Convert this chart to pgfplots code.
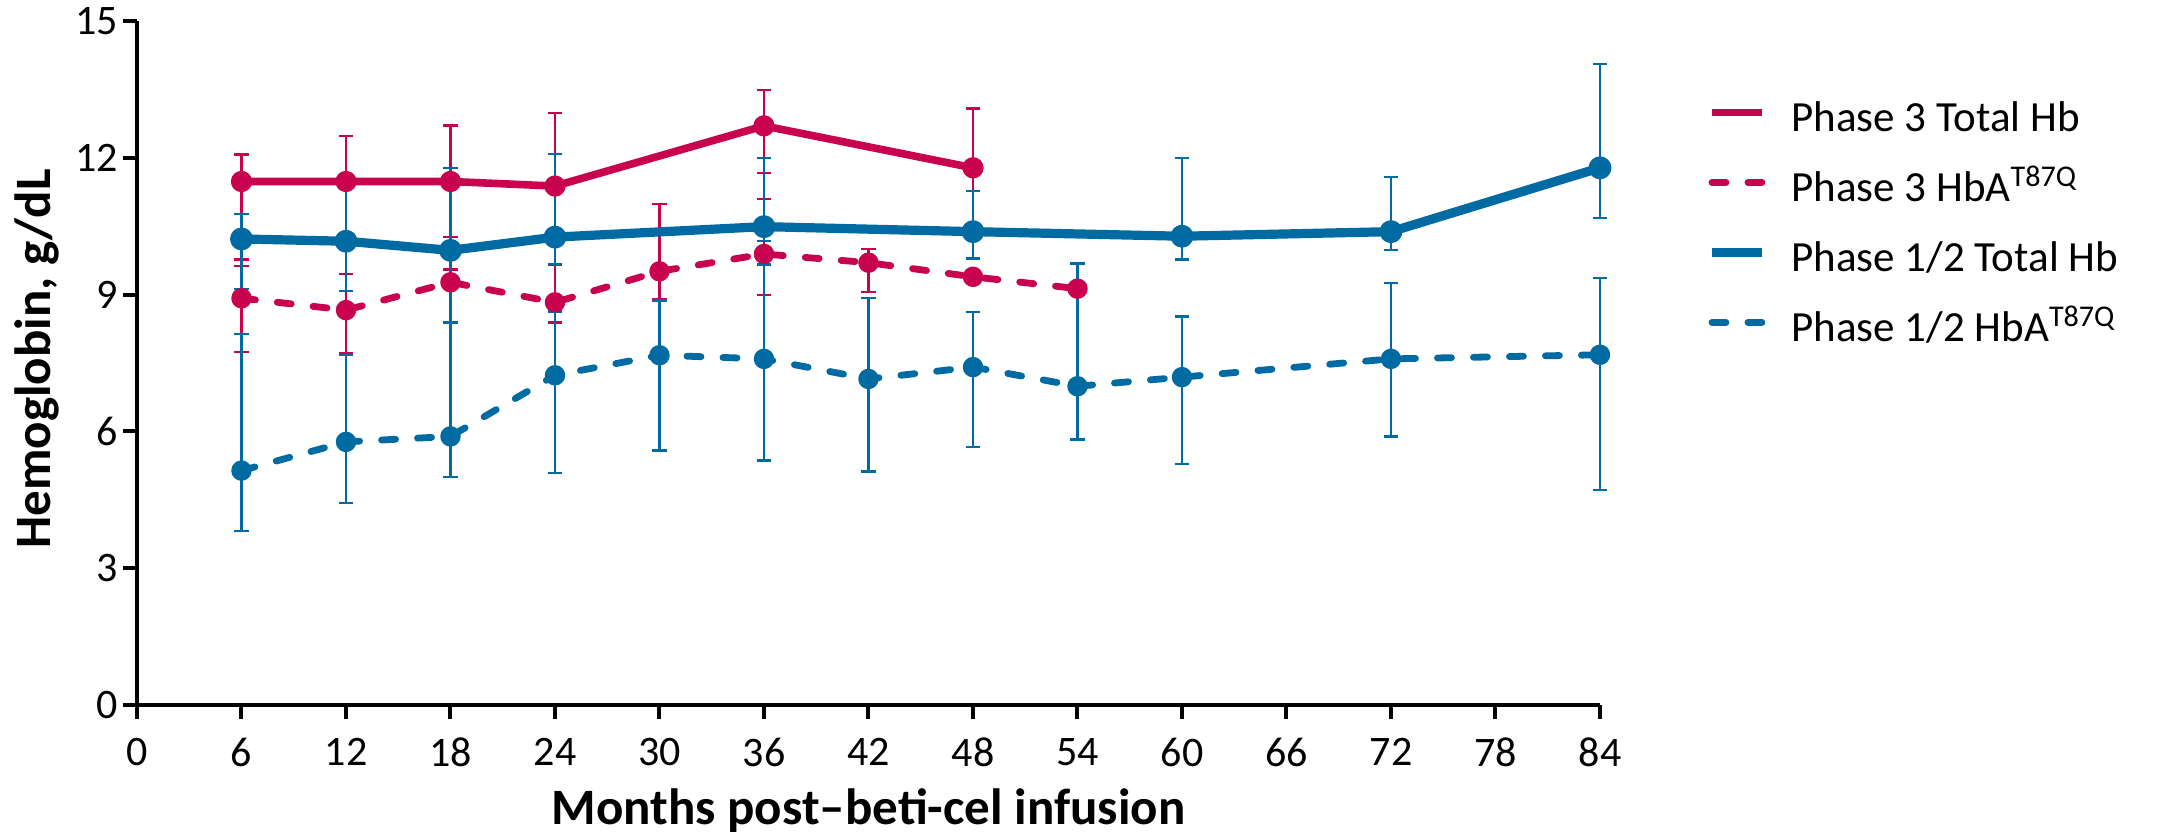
\documentclass[border=0pt]{standalone}
\usepackage{fontspec}
\setmainfont{Carlito}
\usepackage{pgfplots}
\pgfplotsset{compat=1.18}
\usepackage{pgfplotstable}

\definecolor{pthree}{HTML}{C8024F}
\definecolor{ponetwo}{HTML}{006AA3}

% x = month, y = mean, hi/lo = ends of the error bar (g/dL)
\pgfplotstableread{
x  y     hi    lo
6  11.48 12.07 9.77
12 11.48 12.48 10.02
18 11.48 12.71 10.27
24 11.38 12.98 10.20
36 12.70 13.48 11.67
48 11.78 13.08 10.40
}\pthreetotal

\pgfplotstableread{
x  y     hi    lo
6  8.92  9.62  7.74
12 8.66  9.45  7.72
18 9.27  9.55  8.40
24 8.83  9.65  8.39
30 9.51  10.98 8.90
36 9.89  11.09 8.99
42 9.70  10.00 9.05
48 9.39  9.39  9.39
54 9.13  9.13  9.13
}\pthreehba

\pgfplotstableread{
x  y     hi    lo
6  10.22 10.76 9.12
12 10.17 11.48 9.07
18 9.97  11.78 8.38
24 10.26 12.08 9.67
36 10.49 11.99 10.17
48 10.38 11.28 9.79
60 10.28 11.99 9.77
72 10.38 11.58 9.98
84 11.78 14.06 10.68
}\ponetwototal

\pgfplotstableread{
x  y     hi    lo
6  5.14  8.13  3.81
12 5.77  7.68  4.43
18 5.89  8.40  5.00
24 7.23  8.63  5.09
30 7.67  8.87  5.58
36 7.59  9.66  5.36
42 7.15  8.93  5.12
48 7.41  8.62  5.66
54 6.99  9.68  5.82
60 7.19  8.52  5.28
72 7.59  9.26  5.89
84 7.68  9.37  4.72
}\ponetwohba

\pgfplotsset{
  errbars/.style={
    #1, only marks, mark=*, mark size=0.2pt, forget plot,
    error bars/.cd, y dir=both, y explicit, error mark=-,
    error bar style={draw=#1, line width=1.1pt, solid},
    error mark options={draw=#1, line width=1.1pt, mark size=3.6pt, solid, rotate=90},
    /pgfplots/.cd,
  },
  dashedline/.style={line width=3.4pt, dash pattern=on 7pt off 11pt, line cap=round},
}

\begin{document}
\begin{tikzpicture}
\path[use as bounding box] (-68.5pt,-66.5pt) rectangle (1012pt,352.5pt);
\begin{axis}[
  at={(0,0)}, anchor=south west,
  scale only axis, width=731.5pt, height=342pt,
  xmin=0, xmax=84, ymin=0, ymax=15,
  xtick={0,6,...,84}, ytick={0,3,...,15},
  axis x line*=bottom, axis y line*=left,
  axis line style={line width=2.2pt, -},
  tick style={line width=2pt, black},
  major tick length=7pt, tick align=outside,
  clip=false,
  /pgf/number format/assume math mode=true,
  ticklabel style={font=\fontsize{21}{21}\selectfont},
  xticklabel style={yshift=-6pt},
  yticklabel style={xshift=1pt},
  xlabel={Months post–beti-cel infusion},
  ylabel={Hemoglobin, g/dL},
  label style={font=\fontsize{25.5}{25.5}\selectfont\bfseries},
  xlabel style={at={(axis description cs:0.5,-0.155)}, anchor=center},
  ylabel style={at={(axis description cs:-0.0684,0.506)}, anchor=center, rotate=0},
  legend cell align=left,
  legend style={
    at={(axis description cs:1.069,0.707)}, anchor=west,
    draw=none, fill=none,
    font=\fontsize{21.5}{21.5}\selectfont,
    row sep=20pt,
    nodes={text height=15pt, text depth=0pt, inner sep=0pt},
    /tikz/every odd column/.append style={column sep=12.5pt},
  },
  legend image code/.code={\draw[#1] (0pt,2pt) -- (25pt,2pt);},
  line join=round,
]
% error bars
\addplot[errbars=pthree] table[x=x, y=y,
    y error plus expr=\thisrow{hi}-\thisrow{y},
    y error minus expr=\thisrow{y}-\thisrow{lo}] {\pthreetotal};
\addplot[restrict x to domain=0:42, errbars=pthree] table[x=x, y=y,
    y error plus expr=\thisrow{hi}-\thisrow{y},
    y error minus expr=\thisrow{y}-\thisrow{lo}] {\pthreehba};
\addplot[errbars=ponetwo] table[x=x, y=y,
    y error plus expr=\thisrow{hi}-\thisrow{y},
    y error minus expr=\thisrow{y}-\thisrow{lo}] {\ponetwototal};
\addplot[errbars=ponetwo] table[x=x, y=y,
    y error plus expr=\thisrow{hi}-\thisrow{y},
    y error minus expr=\thisrow{y}-\thisrow{lo}] {\ponetwohba};

% mean curves
\addplot[pthree, line width=3.8pt, mark=*, mark size=3.4pt, mark options={solid}]
  table[x=x, y=y] {\pthreetotal};
\addlegendentry{Phase 3 Total Hb}
\addplot[pthree, dashedline, mark=*, mark size=3.4pt, mark options={solid}]
  table[x=x, y=y] {\pthreehba};
\addlegendentry{Phase 3 HbA\textsuperscript{T87Q}}
\addplot[ponetwo, line width=4.6pt, mark=*, mark size=3.4pt, mark options={solid}]
  table[x=x, y=y] {\ponetwototal};
\addlegendentry{Phase 1/2 Total Hb}
\addplot[ponetwo, dashedline, mark=*, mark size=3.4pt, mark options={solid}]
  table[x=x, y=y] {\ponetwohba};
\addlegendentry{Phase 1/2 HbA\textsuperscript{T87Q}}
\end{axis}
\end{tikzpicture}
\end{document}
